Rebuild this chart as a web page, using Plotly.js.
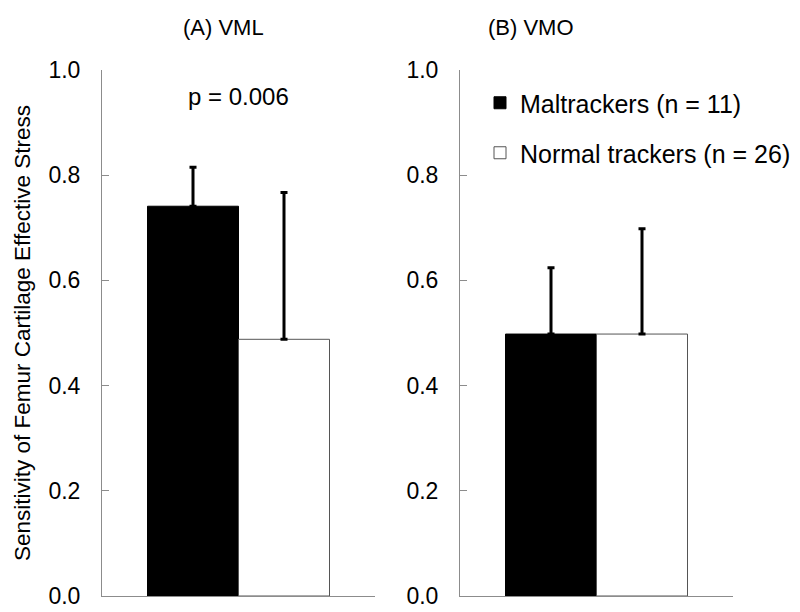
<!DOCTYPE html>
<html>
<head>
<meta charset="utf-8">
<script src="https://cdn.plot.ly/plotly-3.0.1.min.js"></script>
<style>html,body{margin:0;padding:0;background:#fff;}#chart{width:800px;height:612px;}</style>
</head>
<body>
<div id="chart"></div>
<script>
// Data
var panels = ['(A) VML', '(B) VMO'];
var groupNames = ['Maltrackers (n = 11)', 'Normal trackers (n = 26)'];
var malMean = [0.741, 0.498];
var malSD = [0.074, 0.126];
var normMean = [0.488, 0.498];
var normSD = [0.279, 0.200];
var yTicks = [0.0, 0.2, 0.4, 0.6, 0.8, 1.0];
var yTickText = ['0.0', '0.2', '0.4', '0.6', '0.8', '1.0'];
var pText = 'p = 0.006';
var yTitle = 'Sensitivity of Femur Cartilage Effective Stress';

var FONT = 'Arial, "Liberation Sans", sans-serif';
var axisGray = '#8c8c8c';

var traces = [];
for (var p = 0; p < panels.length; p++) {
  var xa = p === 0 ? 'x' : 'x2';
  var ya = p === 0 ? 'y' : 'y2';
  traces.push({
    type: 'bar', x: [0], y: [malMean[p]], width: [1], name: groupNames[0],
    xaxis: xa, yaxis: ya, showlegend: p === 0, legend: 'legend',
    marker: {color: '#000', line: {color: '#000', width: 1}},
    error_y: {type: 'data', symmetric: false, array: [malSD[p]], arrayminus: [0],
              color: '#000', thickness: 3, width: 3.5}
  });
  traces.push({
    type: 'bar', x: [1], y: [normMean[p]], width: [1], name: groupNames[1],
    xaxis: xa, yaxis: ya, showlegend: p === 0, legend: 'legend2',
    marker: {color: '#fff', line: {color: '#555', width: 1}},
    error_y: {type: 'data', symmetric: false, array: [normSD[p]], arrayminus: [0],
              color: '#000', thickness: 3, width: 3.5}
  });
}

function yAxis(anchor) {
  return {
    anchor: anchor, domain: [0, 1], range: [0, 1], autorange: false,
    tickvals: yTicks, ticktext: yTickText, ticks: 'inside', ticklen: 7,
    tickcolor: axisGray, tickwidth: 1, showline: true, linecolor: axisGray, linewidth: 1,
    showgrid: false, zeroline: false, ticklabelstandoff: 16,
    tickfont: {family: FONT, size: 23, color: '#000'}, automargin: false
  };
}
function xAxis(anchor, dom) {
  return {
    anchor: anchor, domain: dom, range: [-1, 2], autorange: false,
    showline: true, linecolor: axisGray, linewidth: 1, ticks: '', showticklabels: false,
    showgrid: false, zeroline: false, automargin: false
  };
}

var layout = {
  width: 800, height: 612,
  margin: {l: 0, r: 0, t: 70, b: 16},
  paper_bgcolor: '#fff', plot_bgcolor: 'rgba(0,0,0,0)',
  font: {family: FONT, color: '#000'},
  barmode: 'overlay',
  xaxis: xAxis('y', [102/800, 375/800]),
  yaxis: yAxis('x'),
  xaxis2: xAxis('y2', [460/800, 733/800]),
  yaxis2: yAxis('x2'),
  legend: {x: 480/800, y: (596-103)/526, xanchor: 'left', yanchor: 'middle',
           font: {family: FONT, size: 25, color: '#000'}, bgcolor: 'rgba(0,0,0,0)', itemclick: false},
  legend2: {x: 480/800, y: (596-153)/526, xanchor: 'left', yanchor: 'middle',
           font: {family: FONT, size: 25, color: '#000'}, bgcolor: 'rgba(0,0,0,0)', itemclick: false},
  annotations: [
    {text: panels[0], xref: 'paper', yref: 'paper', x: 223/800, y: (596-27)/526,
     xanchor: 'center', yanchor: 'middle', showarrow: false, font: {family: FONT, size: 22}},
    {text: panels[1], xref: 'paper', yref: 'paper', x: 531/800, y: (596-27)/526,
     xanchor: 'center', yanchor: 'middle', showarrow: false, font: {family: FONT, size: 22}},
    {text: pText, xref: 'x', yref: 'y', x: 0.5, y: 0.949,
     xanchor: 'center', yanchor: 'middle', showarrow: false, font: {family: FONT, size: 24}},
    {text: yTitle, xref: 'paper', yref: 'paper', x: 22/800, y: 0.5, textangle: -90,
     xanchor: 'center', yanchor: 'middle', showarrow: false, font: {family: FONT, size: 22.5}}
  ]
};

Plotly.newPlot('chart', traces, layout, {displayModeBar: false, staticPlot: true});
</script>
</body>
</html>
